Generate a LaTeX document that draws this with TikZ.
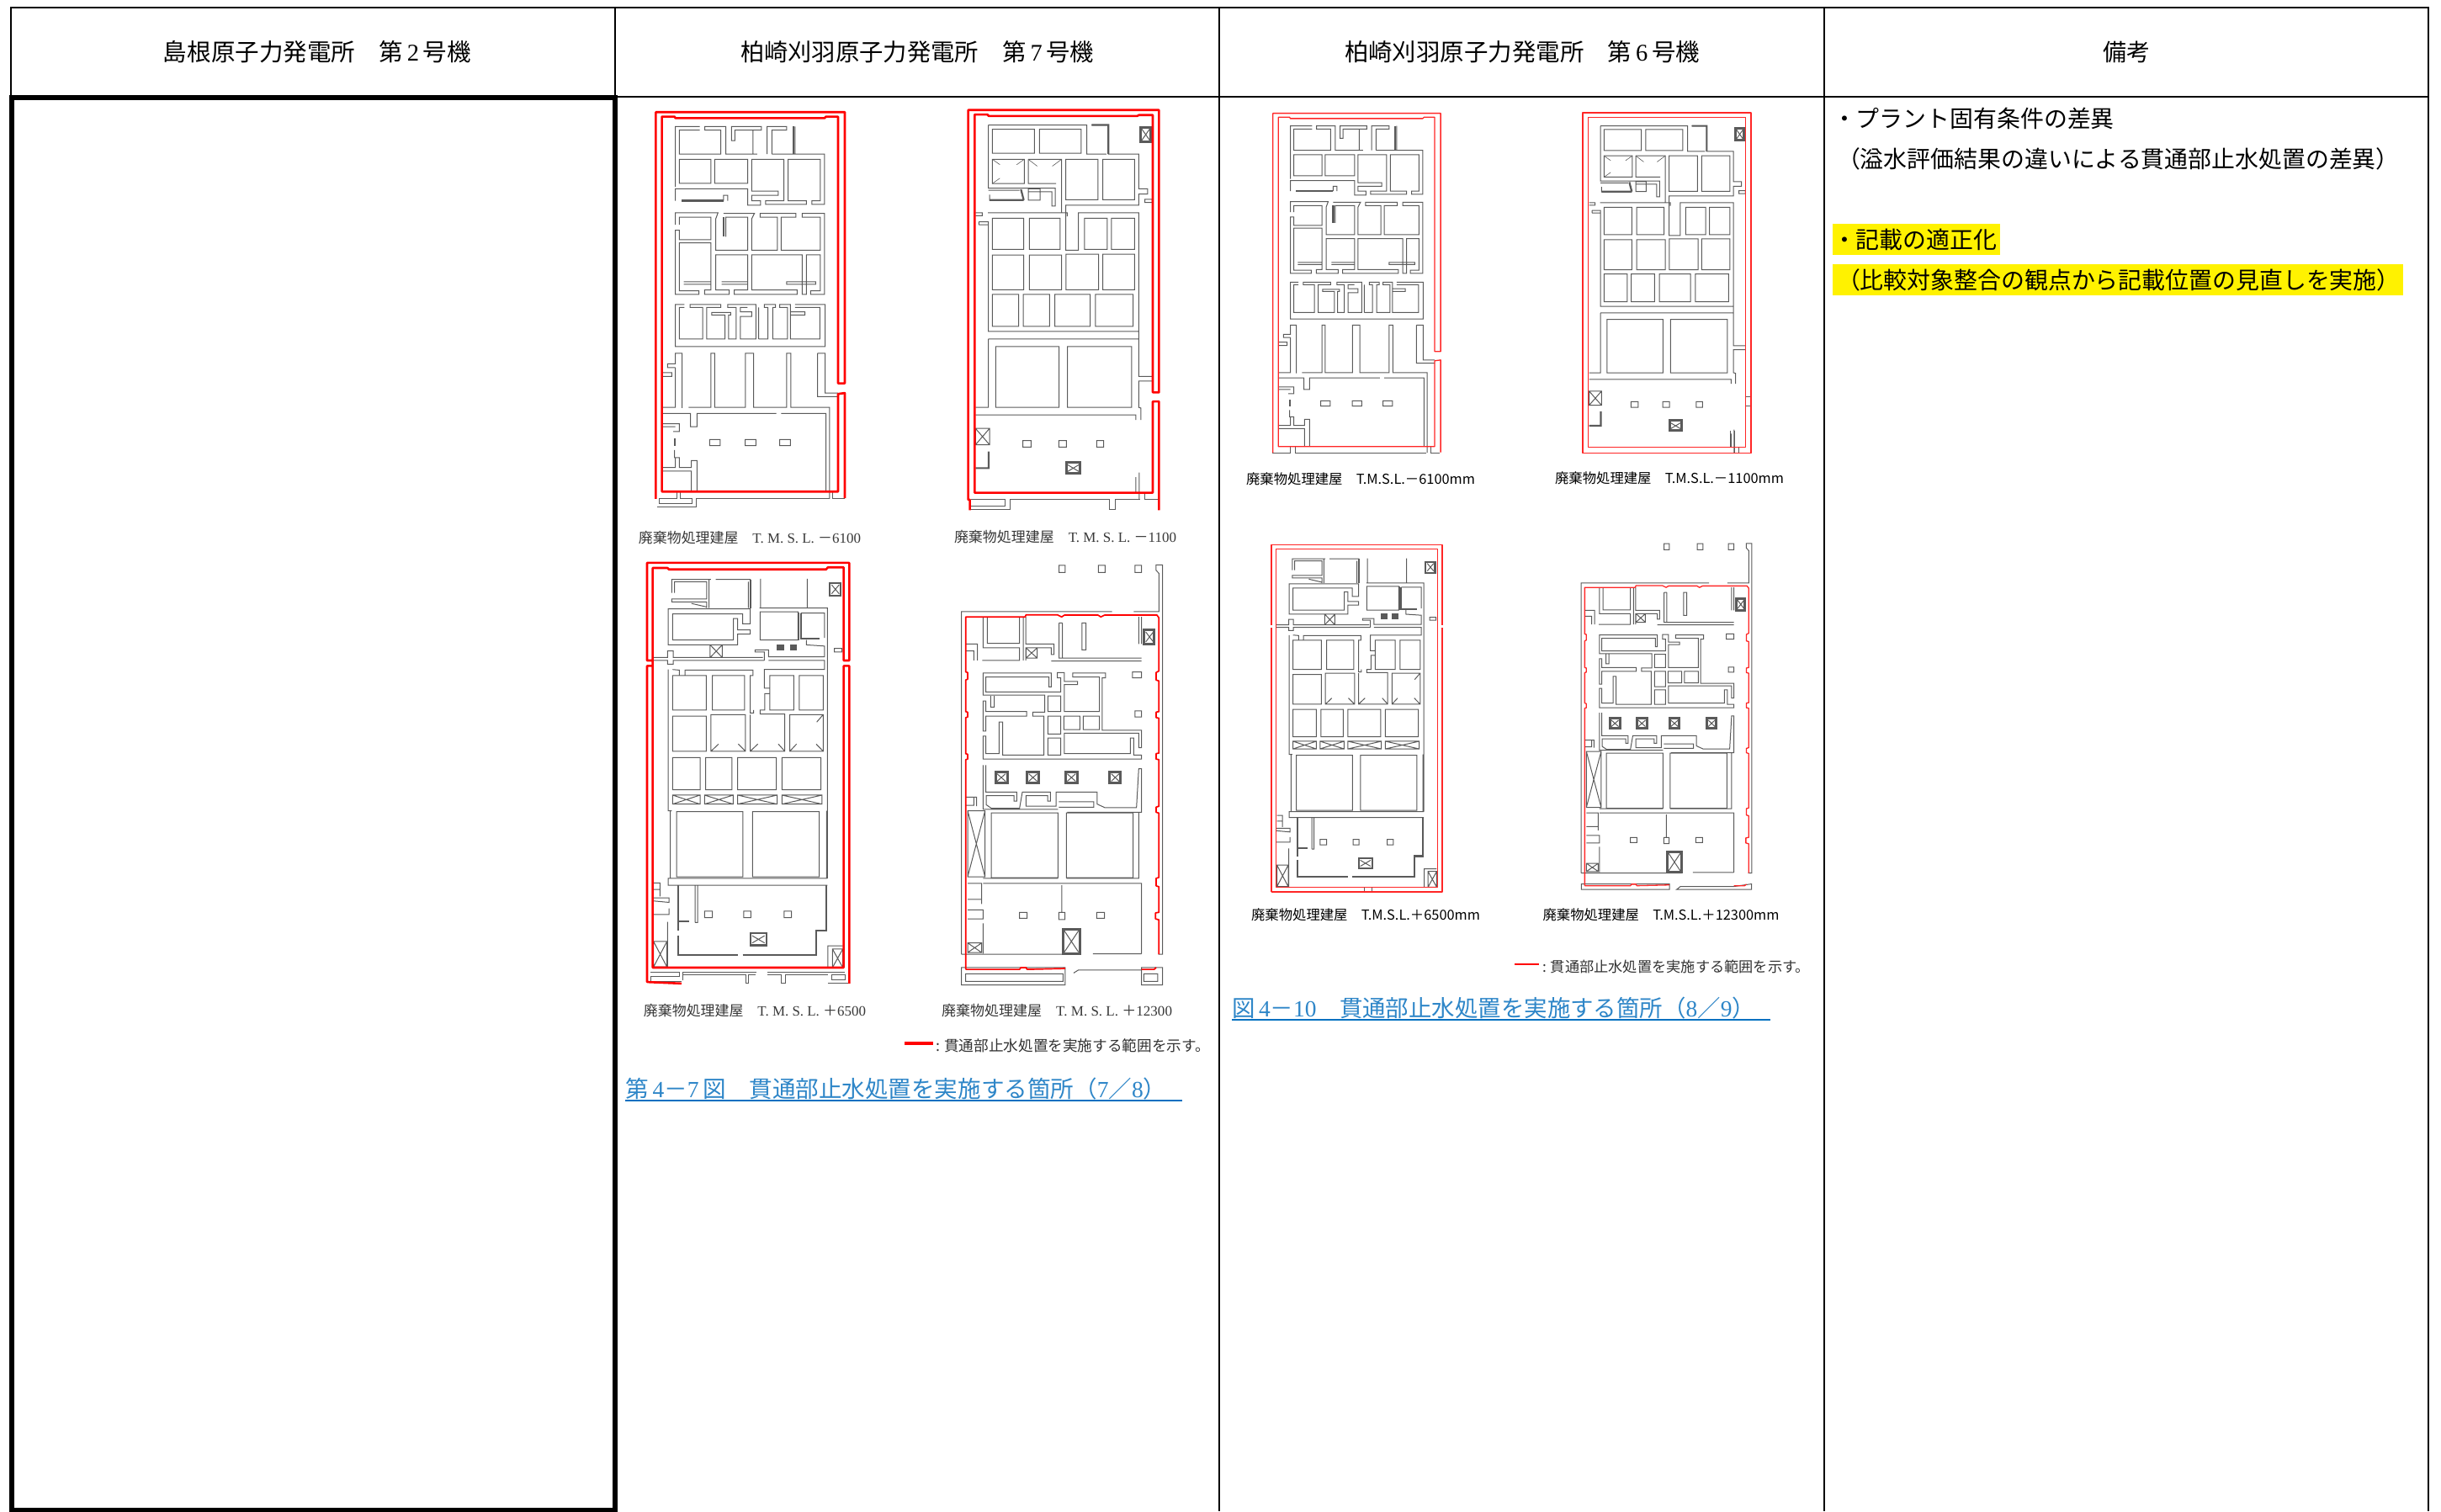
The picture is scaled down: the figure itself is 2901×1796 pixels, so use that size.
\documentclass[tikz,border=0pt]{standalone}
\usepackage{fontspec}
\usepackage{graphicx}
\setmainfont{Noto Sans CJK JP}
\newfontfamily\lat{Liberation Serif}
\definecolor{capblue}{HTML}{2E86C8}
\definecolor{ulblue}{HTML}{0070C0}
\definecolor{wallg}{HTML}{5A5A5A}
\newcommand\fitw[2]{\resizebox{#1pt}{!}{#2}}
\tikzset{
  grid7/.style={line width=2.4pt,black},
  thickbox/.style={line width=5.5pt,black},
  wall/.style={draw=wallg,line width=1pt,line join=miter},
  wallh/.style={draw=wallg,line width=2.2pt},
  wallt/.style={draw=wallg,line width=.6pt},
  red7/.style={draw=red,line width=2.6pt,line join=round},
  red7t/.style={draw=red,line width=1.7pt,line join=round},
  red6/.style={draw=red!85!white,line width=1.3pt,line join=round},
  plan/.style n args={4}{shift={(#1,#2)},x=#3pt,y=-#4pt},
  hd/.style={inner sep=0,outer sep=0,anchor=center,font=\fontsize{28}{30}\selectfont},
  rem/.style={inner sep=0,outer sep=0,anchor=west,font=\fontsize{27.9}{30}\selectfont},
  lab/.style={inner sep=0,outer sep=0,anchor=center,text=black!78,font=\fontsize{17.5}{20}\selectfont},
  lab6/.style={inner sep=0,outer sep=0,anchor=center,text=black,font=\fontsize{17.5}{20}\selectfont},
  captxt/.style={inner sep=0,outer sep=0,anchor=center,text=capblue,font=\fontsize{27}{30}\selectfont},
  leg/.style={inner sep=0,outer sep=0,anchor=center,text=black!80,font=\fontsize{16}{18}\selectfont},
}
% ---------- plan A (T.M.S.L. -6100) ----------
\newcommand\planA{%
\draw[wall]
 (305,113)--(218,113)--(218,314)
 (305,125)--(232,125)--(232,205)--(380,205)--(380,125)--(323,125)--(323,113)--(398,113)--(398,205)--(510,205)
 (418,160)--(418,113)--(525,113)--(525,125)--(430,125)--(430,160)--cycle
 (495,125)--(495,205)
 (545,205)--(545,113)--(615,113)--(615,125)--(562,125)--(562,205)
 (645,113)--(645,205)
 (562,205)--(750,205)--(750,372)--(705,372)--(705,360)--(735,360)--(735,222)--(620,222)--(620,360)--(685,360)--(685,372)--(540,372)--(540,360)--(605,360)--(605,222)--(490,222)--(490,328)--(585,328)--(585,342)--(490,342)--(490,360)--(522,360)--(522,375)--(476,375)--(476,320)--(218,320)--(218,360)
 (232,222) rectangle (345,302) (358,222) rectangle (476,302)
 (390,360)--(390,342)--(405,342)--(405,360)
 (218,440)--(218,400)--(370,400)--(362,420)--(362,525)--(476,525)--(476,415)--(398,415)--(398,480)
 (390,402)--(500,402)--(490,420)--(490,525)--(582,525)--(582,415)--(520,415)--(520,402)--(648,402)--(648,415)--(595,415)--(595,525)--(735,525)--(735,415)--(670,415)--(670,402)--(750,402)--(750,672)--(700,672)--(700,660)--(735,660)--(735,540)--(685,540)--(685,672)--(670,672)--(670,540)--(490,540)--(490,657)--(652,657)--(652,672)--(428,672)--(428,657)--(476,657)--(476,540)--(362,540)--(362,657)--(410,657)--(410,672)--(322,672)--(322,657)--(345,657)--(345,500)--(232,500)--(232,660)--(302,660)--(302,672)--(218,672)--(218,458)--(232,458)--(232,490)--(345,490)--(345,415)--(232,415)--(232,440)
 (248,630)--(345,630) (248,638)--(345,638) (383,630)--(476,630) (383,638)--(476,638)
 (615,630)--(718,630)--(718,638)--(615,638)--cycle
 (250,705)--(218,705)--(218,845)--(752,845)--(752,705)--(645,705)
 (250,715)--(232,715)--(232,820)--(315,820)--(315,715)--(270,715)--(270,705)--(380,705)--(380,715)--(330,715)--(330,820)--(395,820)--(395,740)--(348,740)--(348,732)--(415,732)--(415,740)--(408,740)--(408,820)--(435,820)--(435,715)--(405,715)--(405,705)--(505,705)--(505,820)--(450,820)--(450,745)--(490,745)--(490,730)--(450,730)--(450,715)--(475,715)
 (515,820)--(548,820)--(548,715)--(535,715)--(535,705)--(575,705)--(575,715)--(565,715)--(565,820)--(618,820)--(618,715)--(590,715)--(590,705)--(628,705)--(628,820)--(733,820)--(733,715)--(645,715) (515,820)--(515,715)
 (630,730)--(680,730)--(680,740)--(630,740)
 (172,945)--(205,945)--(205,932)--(172,932)
 (218,915)--(190,915)--(190,903)--(218,903)--(218,868)--(242,868)--(242,1050)
 (218,915)--(218,1048)--(172,1048)
 (265,1048)--(345,1048)--(345,868)--(358,868)--(358,1048)--(468,1048)--(468,868)--(497,868)--(497,1048)--(615,1048)--(615,868)--(630,868)--(630,1048)--(768,1048)--(768,1352)
 (725,868)--(752,868)--(752,1000)--(798,1000) (725,868)--(725,1012)--(798,1012)
 (172,1068)--(272,1068)--(272,1112)--(295,1112)--(295,1068)--(578,1068) (595,1068)--(755,1068)--(755,1328)
 (172,1102)--(232,1102)--(232,1128)--(210,1128) (172,1112)--(218,1112)
 (215,1190)--(215,1215)--(232,1215)--(232,1248)--(275,1248)--(275,1225)--(295,1225)--(295,1328)
 (172,1248)--(218,1248)--(218,1215) (172,1260)--(275,1260)--(275,1328)
 (340,1155) rectangle (378,1175) (467,1155) rectangle (505,1175) (590,1155) rectangle (628,1175);
\draw[wallh] (240,360)--(390,360) (390,415)--(390,480) (638,113)--(638,205) (215,1150)--(215,1175);
}
\newcommand\botAseven{\draw[wall]
 (152,1380)--(292,1380)--(292,1352)--(768,1352) (160,1352)--(160,1368)--(278,1368)--(278,1352)--(235,1352)--(235,1330) (222,1330)--(222,1350)--(160,1350) (780,1330)--(780,1350)--(822,1350);}
\newcommand\botAsix{\draw[wall]
 (146,1352)--(217,1352)--(217,1330) (238,1330)--(238,1352)--(764,1352) (781,1330)--(781,1352)--(818,1352);}
\newcommand\redA[1]{%
\draw[#1] (148,1352)--(148,65)--(822,65)--(822,968)--(798,968)--(798,80)--(755,80)--(750,85)--(218,85)--(215,80)--(170,80)--(170,1328)--(798,1328)--(798,1003)--(822,1000)--(822,1350);}
% ---------- plan B (T.M.S.L. -1100) ----------
\newcommand\planB{%
\draw[wall]
 (238,122) rectangle (388,202) (406,122) rectangle (555,202)
 (238,222) rectangle (352,303)
 (224,108)--(575,108)--(575,205)--(645,205)
 (592,108)--(652,108)--(652,205)--(760,205)--(760,320)--(792,320)--(792,338)--(760,338)--(760,375)--(500,375)--(500,525)--(545,525)--(545,400)--(760,400)--(760,945)--(808,945)
 (808,960)--(760,960)--(760,1048)--(768,1050)--(768,1090)
 (782,355)--(808,355)--(808,366)--(782,366)--cycle
 (224,108)--(224,318)--(462,318)--(462,378)--(450,378)--(450,330)--(366,330)
 (366,222)--(485,222)--(485,400) (366,222)--(366,303)--(465,303)
 (500,222) rectangle (615,357) (632,222) rectangle (745,357)
 (224,325)--(335,325) (228,340)--(228,360) (366,320) rectangle (408,358)
 (222,400)--(505,400)--(505,412) (178,400)--(202,400)--(202,410)--(178,410)
 (190,430)--(224,430)--(224,795)--(760,795) (190,440)--(224,440) (190,430)--(190,440)
 (238,418) rectangle (350,522) (370,418) rectangle (480,522) (567,418) rectangle (648,522) (663,418) rectangle (745,522)
 (238,541) rectangle (350,656) (370,541) rectangle (485,656) (501,538) rectangle (617,656) (632,538) rectangle (745,656)
 (238,672) rectangle (332,778) (348,672) rectangle (442,778) (461,672) rectangle (587,778) (606,672) rectangle (740,778)
 (224,820)--(760,820)--(760,945) (224,820)--(224,1048)--(178,1048)
 (250,845) rectangle (476,1048) (506,845) rectangle (735,1048)
 (178,1073)--(750,1073)--(750,1090)
 (178,1118) rectangle (228,1172) (178,1118)--(228,1172) (178,1172)--(228,1118)
 (347,1158) rectangle (376,1180) (475,1158) rectangle (502,1180) (610,1158) rectangle (635,1180)
 (505,1238)--(548,1262) (505,1262)--(548,1238)
 (750,1280)--(750,1332) (762,1265)--(762,1355);
\draw[wallh] (225,1195)--(225,1250)--(178,1250) (592,108)--(652,108)--(652,205) (228,358)--(350,358) (340,322)--(350,358);
\draw[wallh,line width=3pt] (502,1230) rectangle (550,1268) (767,117) rectangle (803,163);
\draw[wall] (770,120)--(800,160) (770,160)--(800,120);
\draw[wallt] (238,222)--(265,240) (352,222)--(325,240) (238,303)--(265,285) (366,222)--(398,245) (485,222)--(452,245);
}
\newcommand\botBseven{\draw[wall]
 (160,1355)--(160,1388)--(300,1388)--(300,1355)--(655,1355)--(655,1388)--(678,1388)--(678,1355)--(765,1355) (163,1355)--(283,1355)--(283,1375)--(163,1375) (782,1330)--(782,1355)--(830,1355);}
\newcommand\botBsix{\draw[wall]
 (152,1353)--(765,1353)--(765,1268) (748,1268)--(748,1332) (780,1332)--(780,1353)--(827,1353) (808,1140)--(830,1140) (808,1175)--(830,1175);}
\newcommand\redBseven[1]{\draw[#1] (158,1390)--(158,1355)--(152,1355)--(152,58)--(832,58)--(832,998)--(810,998)--(810,75)--(760,75)--(755,78)--(225,78)--(220,73)--(175,73)--(175,1332)--(810,1332)--(810,1028)--(832,1028)--(832,1390);}
\newcommand\redBsix[1]{\draw[#1] (152,58) rectangle (830,1353) (175,75) rectangle (808,1332);}
% ---------- plan C (T.M.S.L. +6500) ----------
\newcommand\planC{%
\draw[wall]
 (205,125)--(205,80)--(345,80) (215,125)--(215,88)--(330,88)--(330,145)--(205,145)--(205,155)--(330,155)--(330,175)
 (338,80)--(338,175) (362,80)--(485,80)--(485,175) (478,88)--(478,175)
 (522,78)--(522,175) (688,78)--(688,175)
 (192,178)--(192,298)--(440,298)--(440,262)--(485,262)--(485,248)--(440,248)--(440,210)--(425,210)--(425,282)--(208,282)--(208,195)--(458,195)--(458,228)--(485,228)--(485,178)--cycle
 (520,188) rectangle (655,282) (518,175)--(760,175)--(760,1075)
 (665,192)--(750,192)--(750,275)
 (685,282)--(685,298)--(750,302)--(750,338)--(550,338)--(550,315)--(502,315)--(502,322)--(535,322)--(535,350)
 (137,340)--(190,340)--(190,318)--(210,318)--(210,340)--(530,340)
 (137,350)--(190,350)--(190,362)--(210,362)--(210,350)--(535,350)
 (550,350)--(750,350)--(750,380)--(535,380)--(535,442)--(555,442)--(555,460)--(537,460)--(537,515)--(520,515)--(520,528)--(608,528)--(608,652)--(485,652)--(485,530)
 (342,298) rectangle (385,340) (342,298)--(385,340) (342,340)--(385,298)
 (785,310)--(812,310)--(812,322)--(785,322)--cycle
 (192,380)--(192,850)--(200,850)--(200,1075)--(192,1075)--(192,1098)--(760,1098)
 (208,380)--(232,382)--(232,400)--(210,400)
 (252,400)--(252,382)--(495,382)--(495,400)--(485,400)--(485,525)--(497,525)--(497,515)
 (208,400) rectangle (328,515) (350,400) rectangle (465,515) (555,400) rectangle (640,515) (660,400) rectangle (745,515)
 (208,535) rectangle (328,652) (345,530) rectangle (468,652) (626,530) rectangle (745,652)
 (208,673) rectangle (306,780) (326,673) rectangle (420,780) (440,673) rectangle (578,780) (598,673) rectangle (737,780)
 (208,798) rectangle (306,828) (322,798) rectangle (424,828) (440,798) rectangle (581,828) (598,798) rectangle (741,828)
 (208,798)--(306,828) (208,828)--(306,798) (322,798)--(424,828) (322,828)--(424,798) (440,798)--(581,828) (440,828)--(581,798) (598,798)--(741,828) (598,828)--(741,798)
 (222,853) rectangle (459,1070) (493,853) rectangle (731,1070)
 (200,850)--(205,850) (757,850)--(757,1075) (200,1075)--(760,1075)
 (288,1098)--(288,1222) (297,1098)--(297,1222)--(288,1222)
 (322,1184) rectangle (350,1206) (462,1184) rectangle (487,1206) (606,1184) rectangle (632,1206)
 (492,1266)--(536,1290) (492,1290)--(536,1266)
 (140,1090)--(163,1090)--(163,1135) (140,1112)--(163,1112)
 (137,1140)--(195,1140)--(195,1155)--(137,1150)
 (137,1195)--(195,1195)--(195,1175)
 (190,1220)--(190,1372)
 (140,1285) rectangle (188,1370) (140,1285)--(188,1370) (140,1370)--(188,1285)
 (778,1310) rectangle (815,1372) (778,1310)--(815,1372) (778,1372)--(815,1310)
 (762,1372)--(762,1300)--(815,1300)
 (345,652)--(372,628) (468,652)--(442,628) (485,652)--(512,628) (608,652)--(585,628) (626,652)--(650,628) (745,652)--(720,628) (745,530)--(722,555)
 (275,160)--(330,172);
\draw[wallh] (228,1098)--(228,1250) (228,1218)--(268,1218) (228,1265)--(228,1330)--(440,1330) (458,1330)--(720,1330)--(720,1250)--(757,1250)--(757,1098)
 (665,192)--(665,278)--(732,278) (657,190)--(657,282) (485,80)--(485,175);
\draw[wallh] (485,1258) rectangle (543,1298) (768,92) rectangle (808,135);
\draw[wall] (775,98)--(802,128) (775,128)--(802,98);
\draw[wallh,fill=wallg] (582,299) rectangle (603,313) (630,299) rectangle (648,313);
}
\newcommand\botCseven{\draw[wall]
 (130,1388)--(232,1388)--(232,1402)--(130,1402)--(130,1418)--(240,1418) (245,1415)--(245,1388)--(508,1388)
 (245,1396)--(470,1396)--(470,1425)--(480,1425)--(480,1396)--(505,1396)
 (547,1388)--(822,1388) (547,1396)--(597,1396)--(597,1425)--(610,1425)--(610,1396)--(762,1396)
 (775,1395) rectangle (825,1412) (762,1425)--(835,1425);}
\newcommand\botCsix{\draw[wall]
 (116,1391)--(510,1391)--(510,1372) (542,1372)--(542,1391)--(836,1391);}
\newcommand\redCseven[1]{\draw[#1] (240,1425)--(117,1420)--(117,368)--(137,368) (137,350)--(117,350)--(117,25)--(838,25)--(838,350)--(818,350)--(818,40)--(762,40)--(755,47)--(195,47)--(190,42)--(137,42)--(137,1372)--(818,1372)--(818,368)--(838,368)--(838,1425);}
\newcommand\redCsix[1]{\draw[#1] (117,1391)--(117,352) (117,342)--(117,25)--(838,25)--(838,342) (838,352)--(838,1391)--(117,1391) (137,42) rectangle (818,1372);}
% ---------- plan D (T.M.S.L. +12300) ----------
\newcommand\planD{%
\draw[wall]
 (128,1328)--(128,187)--(665,187) (742,187)--(832,187)--(832,60)--(822,50)--(822,32)--(845,32)--(845,1328)--(830,1328)
 (476,33) rectangle (498,57) (616,33) rectangle (640,57) (747,33) rectangle (770,57)
 (128,1328)--(550,1328) (597,1326)--(770,1326)
 (205,205)--(205,308)--(335,308)--(335,350)--(202,350)
 (220,205)--(220,293)--(335,293)--(335,205) (348,205)--(348,350)
 (357,205)--(357,295)--(458,295)--(458,330)--(448,330)--(448,308)--(357,308)--(357,350)
 (358,308) rectangle (398,342) (358,308)--(398,342) (358,342)--(398,308)
 (476,225)--(476,342)--(770,342) (488,225)--(488,342) (476,225)--(488,225)
 (448,352)--(770,352)
 (558,225) rectangle (572,315)
 (760,205)--(760,295) (770,205)--(770,295)
 (143,295)--(185,295)--(185,350) (143,318)--(172,318)--(172,350)
 (205,390)--(205,465)--(425,465)--(425,522)--(382,522)--(382,535)--(422,535)--(422,665)--(275,665)--(275,555)--(262,555)--(262,660)--(215,660)--(215,602)--(205,602)--(205,678)--(770,678)--(770,665)--(742,665)--(742,608)--(730,608)--(730,660)--(495,660)--(495,592)--(760,592)--(760,640)--(770,640)--(770,582)--(630,582)--(630,408)--(642,408)--(642,392)--(525,392)--(525,405)--(620,405)--(620,520)--(495,520)--(495,430)--(542,430)--(542,420)--(495,420)--(495,408)--(495,390)--(470,390)--(470,408)--(482,408)--(482,455)--(215,455)--(215,405)--(440,405)--(440,438)--(448,438)--(448,392)--(205,392)
 (205,485)--(205,585)--(215,585)--(215,535)--(360,535)--(360,520)--(215,520)--(215,485)--cycle
 (232,468)--(232,505)--(245,505)--(245,468)
 (436,468) rectangle (482,520) (436,535) rectangle (482,595) (436,608) rectangle (482,665)
 (493,535) rectangle (550,580) (562,535) rectangle (620,580)
 (738,388) rectangle (770,408) (747,518) rectangle (770,538)
 (205,698)--(205,845)--(472,845) (215,698)--(215,788)--(325,788)--(325,818)--(315,818)--(315,800)--(216,800)--(216,830)--(235,842)--(335,842)--(345,788)--(445,788)--(445,818)--(435,818)--(435,800)--(358,800)--(358,835)--(465,835)--(465,788)--(612,788)--(612,828)--(640,840)--(752,840)--(760,710)--(770,710)--(770,855)--(505,855)
 (234,857) rectangle (472,1073) (502,857) rectangle (740,1073)
 (475,820)--(600,820)--(600,838)--(475,838)
 (150,850) rectangle (212,1070) (150,850)--(212,1070) (150,1070)--(212,850)
 (205,1092)--(770,1092)--(770,1326) (205,1075)--(472,1075) (502,1075)--(760,1075)--(760,857)
 (486,1098)--(486,1190) (475,1188) rectangle (497,1212)
 (335,1188) rectangle (362,1208) (610,1188) rectangle (638,1208)
 (150,1092)--(200,1092)--(200,1160) (150,1145)--(200,1145)
 (150,1180)--(205,1180)--(205,1210)--(150,1210)
 (205,1225)--(205,1325)
 (150,1290) rectangle (200,1322) (150,1290)--(200,1322) (150,1322)--(200,1290)
 (143,805)--(182,805)--(182,835) (143,832)--(172,832)--(172,805)
 (495,1250)--(545,1320) (495,1320)--(545,1250);
\draw[wallh,line width=3pt] (490,1245) rectangle (550,1325)
 (780,248) rectangle (816,295) (249,720) rectangle (291,758) (362,720) rectangle (404,758) (499,720) rectangle (541,758) (657,720) rectangle (695,758);
\draw[wall] (785,255)--(812,288) (785,288)--(812,255) (255,727)--(285,752) (255,752)--(285,727) (368,727)--(398,752) (368,752)--(398,727) (505,727)--(535,752) (505,752)--(535,727) (662,727)--(690,752) (662,752)--(690,727);
}
\newcommand\botDseven{\draw[wall]
 (128,1372) rectangle (498,1430) (143,1393) rectangle (490,1418)
 (528,1390)--(545,1380)--(770,1380) (770,1372) rectangle (845,1430) (778,1393) rectangle (828,1418);}
\newcommand\botDsix{\draw[wall]
 (129,1371) rectangle (499,1393) (529,1393)--(545,1381)--(770,1381)--(844,1371)--(844,1393)--cycle;}
\newcommand\redD[1]{\draw[#1]
 (143,1378)--(143,680)--(150,678)--(150,662)--(143,660)--(143,540)--(150,538)--(150,522)--(143,520)--(143,415)--(150,412)--(150,390)--(143,388)--(143,205)--(355,205)--(358,198)--(470,198)--(485,205)--(495,199)--(615,199)--(625,205)--(638,199)--(825,199)--(832,208)--(832,385)--(822,390)--(822,415)--(832,418)--(832,520)--(822,522)--(822,540)--(832,542)--(832,658)--(822,660)--(822,678)--(832,680)--(832,835)--(822,838)--(822,855)--(832,858)--(832,1072)--(822,1075)--(822,1100)--(832,1103)--(832,1188)--(820,1190)--(820,1210)--(832,1213)--(832,1328)
 (143,1378)--(335,1378)--(340,1372)--(358,1372)--(362,1378)--(498,1375)
 (770,1378)--(815,1378)--(822,1372);}
\begin{document}
\begin{tikzpicture}[x=1pt,y=-1pt]
\useasboundingbox (0,0) rectangle (2901,1796);
\fill[white] (0,0) rectangle (2901,1796);
% remark highlights
\fill[yellow] (2178,266) rectangle (2377,303);
\fill[yellow] (2178,314) rectangle (2856,351);
% table
\draw[grid7] (13,1796)--(13,9)--(2886,9)--(2886,1796);
\draw[grid7] (13,115)--(2886,115);
\draw[grid7] (731,9)--(731,1796) (1449,9)--(1449,1796) (2168,9)--(2168,1796);
\draw[thickbox] (14,116) rectangle (731,1795);
% headers
\node[hd] (h1) at (377,62) {\fitw{366}{島根原子力発電所　第{\lat\,2\,}号機}};
\node[hd] (h2) at (1090,62) {\fitw{420}{柏崎刈羽原子力発電所　第{\lat\,7\,}号機}};
\node[hd] (h3) at (1809,62) {\fitw{422}{柏崎刈羽原子力発電所　第{\lat\,6\,}号機}};
\node[hd] (h4) at (2527,62) {\fitw{56}{備考}};
% remarks
\node[rem] (r1) at (2178,141) {・プラント固有条件の差異};
\node[rem] (r2) at (2183,189) {（溢水評価結果の違いによる貫通部止水処置の差異）};
\node[rem] (r3) at (2178,285) {・記載の適正化};
\node[rem] (r4) at (2183,333) {（比較対象整合の観点から記載位置の見直しを実施）};
% KK7 plans
\begin{scope}[plan={730}{110}{.3333}{.3571}]\planA\botAseven\redA{red7}\end{scope}
\begin{scope}[plan={1100}{110}{.3333}{.3571}]\planB\botBseven\redBseven{red7}\end{scope}
\begin{scope}[plan={730}{660}{.3333}{.3571}]\planC\botCseven\redCseven{red7}\end{scope}
\begin{scope}[plan={1100}{660}{.3333}{.3571}]\planD\botDseven\redD{red7t}\end{scope}
% KK6 plans
\begin{scope}[plan={1469.06}{114.24}{.2957}{.3136}]\planA\botAsix\redA{red6}\end{scope}
\begin{scope}[plan={1836.06}{115.92}{.2949}{.3121}]\planB\botBsix\redBsix{red6}\end{scope}
\begin{scope}[plan={1478.12}{639.99}{.2814}{.302}]\planC\botCsix\redCsix{red6}\end{scope}
\begin{scope}[plan={1842.88}{636.23}{.2829}{.3022}]\planD\botDsix\redD{red6}\end{scope}
% labels
\node[lab] (l1) at (891,639) {\fitw{264}{廃棄物処理建屋　{\lat T. M. S. L. }－{\lat 6100}}};
\node[lab] (l2) at (1266,638) {\fitw{264}{廃棄物処理建屋　{\lat T. M. S. L. }－{\lat 1100}}};
\node[lab] (l3) at (897,1201) {\fitw{264}{廃棄物処理建屋　{\lat T. M. S. L. }＋{\lat 6500}}};
\node[lab] (l4) at (1256,1201) {\fitw{274}{廃棄物処理建屋　{\lat T. M. S. L. }＋{\lat 12300}}};
\node[lab6] (l5) at (1617,569) {\fitw{272}{廃棄物処理建屋　T.M.S.L.－6100mm}};
\node[lab6] (l6) at (1984,568) {\fitw{272}{廃棄物処理建屋　T.M.S.L.－1100mm}};
\node[lab6] (l7) at (1623,1087) {\fitw{272}{廃棄物処理建屋　T.M.S.L.＋6500mm}};
\node[lab6] (l8) at (1974,1087) {\fitw{281}{廃棄物処理建屋　T.M.S.L.＋12300mm}};
% legends
\coordinate (b7a) at (1075,1240); \coordinate (b7b) at (1109,1240);
\draw[red,line width=4pt] (b7a)--(b7b);
\node[leg] (g7) at (1275,1243) {\fitw{326}{: 貫通部止水処置を実施する範囲を示す。}};
\coordinate (b6a) at (1800,1146); \coordinate (b6b) at (1829,1146);
\draw[red,line width=2.4pt] (b6a)--(b6b);
\node[leg] (g6) at (1992,1149) {\fitw{318}{: 貫通部止水処置を実施する範囲を示す。}};
% captions
\node[captxt] (c7) at (1065,1294) {\fitw{643}{第{\lat\,4}－{\lat 7\,}図　貫通部止水処置を実施する箇所（{\lat 7}／{\lat 8}）}};
\draw[ulblue,line width=2pt] (743,1308)--(1405,1308);
\node[captxt] (c6) at (1775,1198) {\fitw{622}{図{\lat\,4}－{\lat 10}　貫通部止水処置を実施する箇所（{\lat 8}／{\lat 9}）}};
\draw[ulblue,line width=2pt] (1464,1212)--(2104,1212);
\end{tikzpicture}
\end{document}
